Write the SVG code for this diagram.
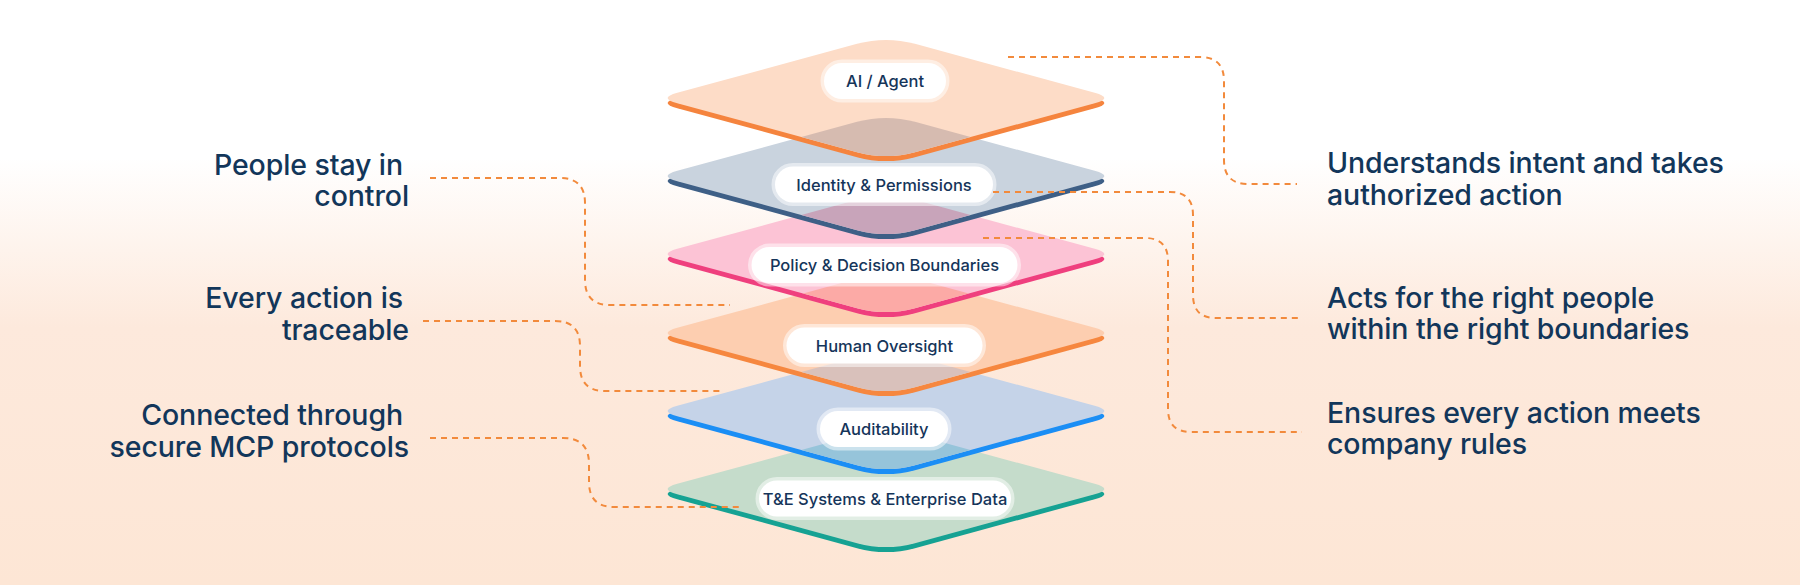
<svg xmlns="http://www.w3.org/2000/svg" xmlns:xlink="http://www.w3.org/1999/xlink" width="1800" height="585" viewBox="0 0 1800 585">
  <defs>
    <linearGradient id="bg" x1="0" y1="0" x2="0" y2="1">
      <stop offset="0" stop-color="#ffffff"/>
      <stop offset="0.27" stop-color="#ffffff"/>
      <stop offset="0.56" stop-color="#fde9dc"/>
      <stop offset="1" stop-color="#fde6d5"/>
    </linearGradient>
    <path id="dia" d="M-208.7,-5.25 L-28.95,-54.13 Q0,-62 28.95,-54.13 L208.7,-5.25 Q228,0 208.7,5.25 L28.95,54.13 Q0,62 -28.95,54.13 L-208.7,5.25 Q-228,0 -208.7,-5.25 Z"/>
    <clipPath id="c0"><use href="#dia" x="886" y="98"/></clipPath>
    <clipPath id="c1"><use href="#dia" x="886" y="176"/></clipPath>
    <clipPath id="c2"><use href="#dia" x="886" y="254"/></clipPath>
    <clipPath id="c3"><use href="#dia" x="886" y="333"/></clipPath>
    <clipPath id="c4"><use href="#dia" x="886" y="411"/></clipPath>
  </defs>
  <style>
    .pill { fill: #ffffff; stroke: #ffffff; stroke-opacity: 0.5; stroke-width: 7; }
    .lbl { font-family: Inter, "Liberation Sans", sans-serif; font-size: 16.5px; font-weight: 500; fill: #15355a; text-anchor: middle; }
    .big { font-family: Inter, "Liberation Sans", sans-serif; font-size: 28.5px; font-weight: 500; fill: #12365a; letter-spacing: -0.1px; }
    .end { text-anchor: end; }
    .conn { fill: none; stroke: #f28a3c; stroke-width: 2; stroke-dasharray: 6 5; }
  </style>

  <rect x="0" y="0" width="1800" height="585" fill="url(#bg)"/>

  <g id="layer-te">
    <use href="#dia" x="886" y="494" fill="#16a293"/>
    <use href="#dia" x="886" y="489" fill="#c5dccb"/>
    <rect class="pill" x="759" y="480.5" width="252" height="36" rx="18"/>
    <text class="lbl" x="885" y="504.5">T&amp;E Systems &amp; Enterprise Data</text>
  </g>

  <g id="layer-audit">
    <use href="#dia" x="886" y="416" fill="#1b8ef5"/>
    <use href="#dia" x="886" y="411" fill="#c5d3e8"/>
    <g clip-path="url(#c4)"><use href="#dia" x="886" y="489" fill="#96c4da"/></g>
    <rect class="pill" x="820" y="411" width="128" height="36" rx="18"/>
    <text class="lbl" x="884" y="435">Auditability</text>
  </g>

  <g id="layer-human">
    <use href="#dia" x="886" y="338" fill="#f6873f"/>
    <use href="#dia" x="886" y="333" fill="#fdceb0"/>
    <g clip-path="url(#c3)"><use href="#dia" x="886" y="411" fill="#d9c1bb"/></g>
    <rect class="pill" x="786.5" y="327.5" width="196" height="36" rx="18"/>
    <text class="lbl" x="884.5" y="351.5">Human Oversight</text>
  </g>

  <g id="layer-policy">
    <use href="#dia" x="886" y="259" fill="#ef3f7e"/>
    <use href="#dia" x="886" y="254" fill="#fcc3d5"/>
    <g clip-path="url(#c2)"><use href="#dia" x="886" y="333" fill="#fcaaa6"/></g>
    <rect class="pill" x="751.5" y="247" width="266" height="36" rx="18"/>
    <text class="lbl" x="884.5" y="271">Policy &amp; Decision Boundaries</text>
  </g>

  <g id="layer-identity">
    <use href="#dia" x="886" y="181" fill="#3e5f86"/>
    <use href="#dia" x="886" y="176" fill="#c9d3de"/>
    <g clip-path="url(#c1)"><use href="#dia" x="886" y="254" fill="#c8a4ba"/></g>
    <rect class="pill" x="775" y="166.5" width="218" height="36" rx="18"/>
    <text class="lbl" x="884" y="190.5">Identity &amp; Permissions</text>
  </g>

  <g id="layer-ai">
    <use href="#dia" x="886" y="103" fill="#f5843e"/>
    <use href="#dia" x="886" y="98" fill="#fddcc7"/>
    <g clip-path="url(#c0)"><use href="#dia" x="886" y="176" fill="#d6bbb0"/></g>
    <rect class="pill" x="824" y="63" width="122" height="36" rx="18"/>
    <text class="lbl" x="885" y="87">AI / Agent</text>
  </g>

  <g id="note-control">
    <text class="big end" x="403" y="175">People stay in</text>
    <text class="big end" x="409" y="206">control</text>
  </g>
  <g id="note-traceable">
    <text class="big end" x="403" y="308">Every action is</text>
    <text class="big end" x="409" y="340">traceable</text>
  </g>
  <g id="note-mcp">
    <text class="big end" x="403" y="425">Connected through</text>
    <text class="big end" x="409" y="457">secure MCP protocols</text>
  </g>
  <g id="note-intent">
    <text class="big" x="1327" y="173">Understands intent and takes</text>
    <text class="big" x="1327" y="205">authorized action</text>
  </g>
  <g id="note-people">
    <text class="big" x="1327" y="308">Acts for the right people</text>
    <text class="big" x="1327" y="339">within the right boundaries</text>
  </g>
  <g id="note-rules">
    <text class="big" x="1327" y="423">Ensures every action meets</text>
    <text class="big" x="1327" y="454">company rules</text>
  </g>

  <g id="connectors">
    <path class="conn" d="M430,178 H560 Q585,178 585,203 V280 Q585,305 610,305 H730"/>
    <path class="conn" d="M423,321 H555 Q580,321 580,346 V366 Q580,391 605,391 H722"/>
    <path class="conn" d="M430,438 H563 Q589,438 589,464 V482 Q589,507 614,507 H743"/>
    <path class="conn" d="M1008,57 H1200 Q1224,57 1224,81 V160 Q1224,184 1248,184 H1297"/>
    <path class="conn" d="M993,192 H1170 Q1193,192 1193,215 V295 Q1193,318 1216,318 H1302"/>
    <path class="conn" d="M983,238 H1145 Q1168,238 1168,261 V409 Q1168,432 1191,432 H1302"/>
  </g>
</svg>
